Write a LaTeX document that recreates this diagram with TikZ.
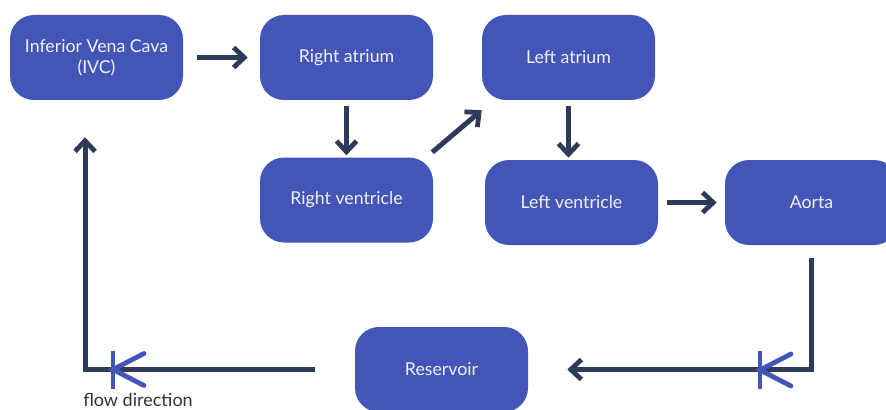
\documentclass[tikz,border=0pt]{standalone}
\usepackage{fontspec}
\setmainfont{Lato}
\usetikzlibrary{arrows.meta,positioning,calc}
\definecolor{organBlue}{HTML}{4356B8}
\definecolor{flowNavy}{HTML}{2E3A59}

\begin{document}
\begin{tikzpicture}[x=0.75pt, y=-0.75pt, font=\fontsize{13.3}{16}\selectfont,
  organ/.style={fill=organBlue, rounded corners=18pt, text=white!92!organBlue, align=center,
    minimum width=129.75pt, minimum height=63.75pt, inner sep=2pt},
  flow/.style={-{Straight Barb[length=8pt,width=15pt,line width=3.6pt]}, line width=3.8pt, draw=flowNavy},
  valvemark/.pic={\draw[line width=3.6pt, draw=organBlue] (0,-19)--(0,19);
    \draw[line width=3.6pt, draw=organBlue, line cap=round] (31,-16)--(0,0)--(31,16);}]
\useasboundingbox (0,0) rectangle (886,410);
% boxes
\node[organ](ivc) at (96.5,57.5){Inferior Vena Cava\\(IVC)};
\node[organ](ra) at (346.5,57.5){Right atrium}; \node[organ](la) at (568.5,57.5){Left atrium};
\node[organ](rv) at (346.5,200){Right ventricle}; \node[organ](lv) at (571.5,202.5){Left ventricle};
\node[organ](ao) at (811.5,202.5){Aorta}; \node[organ](res) at (441.5,369.5){Reservoir};
% flow arrows
\draw[flow, shorten <=10.5pt, shorten >=9pt](ivc)--(ra);
\draw[flow, shorten <=4pt, shorten >=1.5pt](ra)--(rv);
\draw[flow]($(rv.north east)+(-1,-5)$)--($(la.south west)+(0,10)$);
\draw[flow, shorten <=4pt, shorten >=1.5pt](la.south)--(la.south |- lv.north);
\draw[flow, shorten <=6.75pt, shorten >=6pt](lv)--(ao);
\draw[flow, line join=miter, shorten <=9.75pt, shorten >=29.25pt](ao.south)|-(res.east);
\draw[flow, line join=miter, shorten <=30pt, shorten >=27.75pt](res.west)-|([xshift=-8.6pt]ivc.south);
% valves
\pic at (113,369.5){valvemark}; \pic at (760,370){valvemark};
\node[anchor=base, text=black!80, font=\fontsize{13.5}{16}\selectfont](lbl) at (138,406){flow direction};
\end{tikzpicture}
\end{document}
